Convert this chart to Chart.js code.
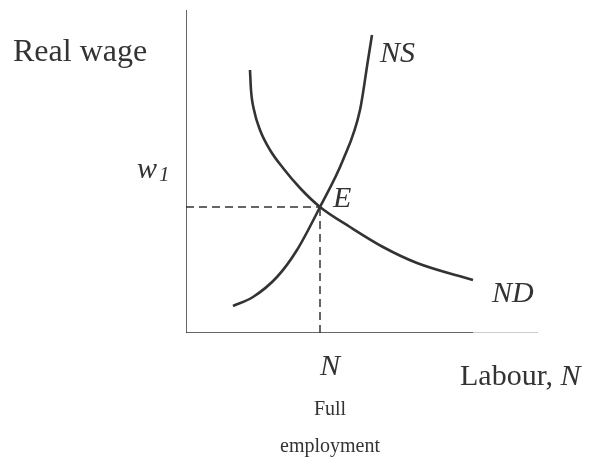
<!DOCTYPE html>
<html>
<head>
<meta charset="utf-8">
<script src="https://cdn.jsdelivr.net/npm/chart.js@4"></script>
<style>
html,body{margin:0;padding:0;background:#fff;}
#wrap{width:596px;height:459px;}
</style>
</head>
<body>
<div id="wrap"><canvas id="c" width="596" height="459"></canvas></div>
<script>
// Labour (x) and real wage (y), arbitrary units
const ndLabour = [64, 65, 68, 74, 84, 97, 114, 134, 164, 197, 231, 287];
const ndWage   = [263, 243, 223, 203, 183, 165, 145, 126, 106, 86, 70, 53];
const nsLabour = [47, 67, 91, 111, 134, 157, 174, 182, 186];
const nsWage   = [27, 36, 56, 83, 126, 173, 223, 273, 298];
const eqLabour = 134;
const eqWage = 126;
const xMax = 352, yMax = 323, xAxisDarkEnd = 287;

const pts = (xs, ys) => xs.map((x, i) => ({x, y: ys[i]}));
const ink = '#333333';

const labels = {
  id: 'labels',
  afterDraw(chart) {
    const ctx = chart.ctx;
    const xs = chart.scales.x, ys = chart.scales.y;
    const ex = xs.getPixelForValue(eqLabour), ey = ys.getPixelForValue(eqWage);
    ctx.save();
    ctx.fillStyle = '#333';
    ctx.textBaseline = 'alphabetic';
    const serif = '"Liberation Serif", "Times New Roman", serif';
    ctx.font = '32px ' + serif;
    ctx.textAlign = 'left';
    ctx.fillText('Real wage', 13, 61);
    // w1
    ctx.font = 'italic 30px ' + serif;
    ctx.fillText('w', 137, 178);
    ctx.font = 'italic 21px ' + serif;
    ctx.fillText('1', 159, 181);
    ctx.font = 'italic 30px ' + serif;
    ctx.fillText('E', ex + 13, ey);
    ctx.fillText('NS', 380, 62);
    ctx.fillText('ND', 492, 302);
    ctx.textAlign = 'center';
    ctx.fillText('N', ex + 10, 375);
    ctx.textAlign = 'left';
    ctx.font = '30px ' + serif;
    const lab = 'Labour, ';
    ctx.fillText(lab, 460, 385);
    const w = ctx.measureText(lab).width;
    ctx.font = 'italic 30px ' + serif;
    ctx.fillText('N', 460 + w, 385);
    ctx.font = '20px ' + serif;
    ctx.textAlign = 'center';
    ctx.fillText('Full', ex + 10, 415);
    ctx.fillText('employment', ex + 10, 452);
    ctx.restore();
  }
};

new Chart(document.getElementById('c'), {
  type: 'scatter',
  data: {
    datasets: [
      {data: [{x:0,y:0},{x:0,y:yMax}], borderColor: ink, borderWidth: 1.5, showLine: true, pointRadius: 0},
      {data: [{x:0,y:0},{x:xAxisDarkEnd,y:0}], borderColor: ink, borderWidth: 1.5, showLine: true, pointRadius: 0},
      {data: [{x:xAxisDarkEnd,y:0},{x:xMax,y:0}], borderColor: '#9a9a9a', borderWidth: 1.2, showLine: true, pointRadius: 0},
      {data: [{x:0,y:eqWage},{x:eqLabour,y:eqWage}], borderColor: ink, borderWidth: 1.5, borderDash: [8,5], showLine: true, pointRadius: 0},
      {data: [{x:eqLabour,y:0},{x:eqLabour,y:eqWage}], borderColor: ink, borderWidth: 1.5, borderDash: [8,5], showLine: true, pointRadius: 0},
      {label: 'ND', data: pts(ndLabour, ndWage), borderColor: ink, borderWidth: 2.6, showLine: true, pointRadius: 0, cubicInterpolationMode: 'monotone'},
      {label: 'NS', data: pts(nsLabour, nsWage), borderColor: ink, borderWidth: 2.6, showLine: true, pointRadius: 0, cubicInterpolationMode: 'monotone'}
    ]
  },
  options: {
    responsive: false,
    animation: false,
    layout: {padding: {left: 186, right: 596 - 186 - xMax, top: 10, bottom: 459 - 10 - yMax}},
    plugins: {legend: {display: false}, tooltip: {enabled: false}},
    scales: {
      x: {type: 'linear', min: 0, max: xMax, display: false},
      y: {type: 'linear', min: 0, max: yMax, display: false}
    },
    elements: {line: {borderCapStyle: 'butt'}}
  },
  plugins: [labels]
});
</script>
</body>
</html>
